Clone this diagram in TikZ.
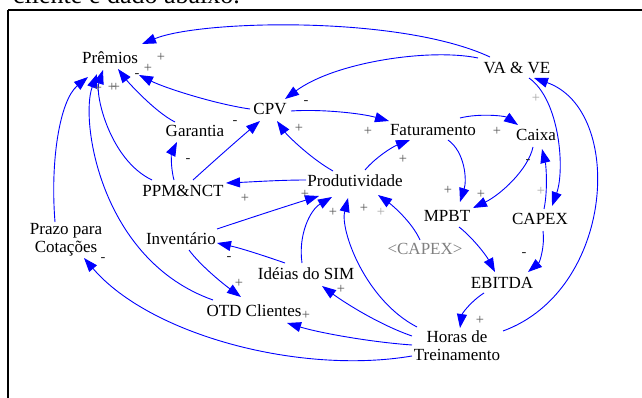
\documentclass[tikz,border=0pt]{standalone}
\usepackage{fontspec}
\setmainfont{Liberation Serif}
\usetikzlibrary{arrows.meta}
\definecolor{linkblue}{RGB}{0,0,255}
\definecolor{signgray}{RGB}{85,85,85}
\definecolor{signlight}{RGB}{165,165,165}
\definecolor{shadowgray}{RGB}{128,128,128}

\begin{document}
\begin{tikzpicture}[x=1pt,y=-1pt,
  var/.style={font=\fontsize{17}{18}\selectfont, inner sep=1.5pt, text height=12pt, text depth=3.5pt},
  var2/.style={font=\fontsize{17}{18}\selectfont, align=center, inner sep=1.5pt},
  link/.style={draw=linkblue, line width=0.9pt, -{Triangle[length=14pt,width=10pt]}},
  plus/.style={font=\fontsize{14.5}{14.5}\selectfont, text=signgray, inner sep=0pt},
  pluslight/.style={plus, text=signlight},
  minus/.style={font=\fontsize{14.5}{14.5}\selectfont, text=black!85, inner sep=0pt},
  boxline/.style={line width=2pt, draw=black}]

\useasboundingbox (0,0) rectangle (642,398);

% running text above the frame, cut by the page edge
\begin{scope}
  \clip (0,0) rectangle (642,398);
  \node[anchor=base west, font=\fontsize{26}{26}\selectfont, inner sep=0pt] (caption) at (13,4) {cliente é dado abaixo.};
\end{scope}

% frame
\draw[boxline] (8,10.5) -- (642,10.5);
\draw[boxline] (8,10.5) -- (8,398);

% variables
\node[var] (prem)   at (110,59)  {Prêmios};
\node[var] (vave)   at (517,69)  {VA \& VE};
\node[var] (cpv)    at (270,110) {CPV};
\node[var] (fat)    at (433,131) {Faturamento};
\node[var] (caixa)  at (536,136) {Caixa};
\node[var] (gar)    at (195,132) {Garantia};
\node[var] (ppm)    at (183,192) {PPM\&NCT};
\node[var] (prod)   at (355,182) {Produtividade};
\node[var] (mpbt)   at (447,217) {MPBT};
\node[var] (capex)  at (540,220) {CAPEX};
\node[var, text=shadowgray] (capexg) at (425,250) {<CAPEX>};
\node[var] (inv)    at (181,240) {Inventário};
\node[var] (ideias) at (306,275) {Idéias do SIM};
\node[var] (otd)    at (254,312) {OTD Clientes};
\node[var] (ebitda) at (502,284) {EBITDA};
\node[var2] (prazo) at (66,240)  {Prazo para\\Cotações};
\node[var2] (horas) at (457,346) {Horas de\\Treinamento};

% causal links
\draw[link] ([shift={(-27,-12)}]vave.center) .. controls +(-90,-42) and +(58,-24) .. ([shift={(32,-15)}]prem.center);
\draw[link] ([shift={(-39,-11)}]vave.center) .. controls +(-48,-10) and +(50,-37) .. ([shift={(15,-11)}]cpv.center);
\draw[link] ([shift={(-20,-1)}]cpv.center) .. controls +(-35,-5) and +(26,13) .. ([shift={(29,16)}]prem.center);
\draw[link] ([shift={(-20,-10)}]gar.center) .. controls +(-20,-10) and +(10,13) .. ([shift={(8,10)}]prem.center);
\draw[link] ([shift={(-31,-12)}]ppm.center) .. controls +(-42,-20) and +(-8,25) .. ([shift={(-7,11)}]prem.center);
\draw[link] ([shift={(-41,-12)}]otd.center) .. controls +(-113,-40) and +(-17,46) .. ([shift={(-13,15)}]prem.center);
\draw[link] ([shift={(-11,-18)}]prazo.center) .. controls +(-5,-62) and +(-28,23) .. ([shift={(-22,18)}]prem.center);
\draw[link] ([shift={(21,1)}]cpv.center) .. controls +(29,-2) and +(-29,-8) .. ([shift={(-44,-10)}]fat.center);
\draw[link] ([shift={(27,-13)}]fat.center) .. controls +(20,-5) and +(-13,-9) .. ([shift={(-18,-11)}]caixa.center);
\draw[link] ([shift={(-22,-11)}]prod.center) .. controls +(-23,-13) and +(10,14) .. ([shift={(7,11)}]cpv.center);
\draw[link] ([shift={(10,-12)}]prod.center) .. controls +(10,-12) and +(-18,7) .. ([shift={(-23,9)}]fat.center);
\draw[link] ([shift={(-49,-2)}]prod.center) .. controls +(-26,0) and +(24,-1) .. ([shift={(43,-9)}]ppm.center);
\draw[link] ([shift={(-9,-12)}]ppm.center) .. controls +(-4,-15) and +(-5,10) .. ([shift={(-18,10)}]gar.center);
\draw[link] ([shift={(10,-12)}]ppm.center) .. controls +(22,-20) and +(-20,17) .. ([shift={(-10,11)}]cpv.center);
\draw[link] ([shift={(15,9)}]fat.center) .. controls +(17,12) and +(7,-22) .. ([shift={(13,-15)}]mpbt.center);
\draw[link] ([shift={(-3,11)}]caixa.center) .. controls +(-5,23) and +(27,-13) .. ([shift={(26,-9)}]mpbt.center);
\draw[link] ([shift={(4,-11)}]capex.center) .. controls +(4,-19) and +(4,16) .. ([shift={(6,13)}]caixa.center);
\draw[link] ([shift={(12,9)}]vave.center) .. controls +(31,22) and +(13,-36) .. ([shift={(12,-14)}]capex.center);
\draw[link] ([shift={(46,-15)}]horas.center) .. controls +(112,-41) and +(91,32) .. ([shift={(17,9)}]vave.center);
\draw[link] ([shift={(12,10)}]mpbt.center) .. controls +(13,10) and +(-9,-17) .. ([shift={(-7,-12)}]ebitda.center);
\draw[link] ([shift={(3,11)}]capex.center) .. controls +(2,14) and +(12,-10) .. ([shift={(26,-12)}]ebitda.center);
\draw[link] ([shift={(-18,9)}]ebitda.center) .. controls +(-14,9) and +(2,-14) .. ([shift={(3,-18)}]horas.center);
\draw[link] ([shift={(-5,-10)}]capexg.center) .. controls +(-8,-18) and +(14,10) .. ([shift={(23,13)}]prod.center);
\draw[link] ([shift={(-40,-19)}]horas.center) .. controls +(-52,-27) and +(-8,32) .. ([shift={(-7,16)}]prod.center);
\draw[link] ([shift={(-4,-12)}]ideias.center) .. controls +(-4,-28) and +(-22,13) .. ([shift={(-23,15)}]prod.center);
\draw[link] ([shift={(36,-11)}]inv.center) .. controls +(33,-11) and +(-29,9) .. ([shift={(-36,14)}]prod.center);
\draw[link] ([shift={(-21,-12)}]ideias.center) .. controls +(-23,-8) and +(23,5) .. ([shift={(36,3)}]inv.center);
\draw[link] ([shift={(8,10)}]inv.center) .. controls +(11,15) and +(-19,-14) .. ([shift={(-13,-15)}]otd.center);
\draw[link] ([shift={(-45,-10)}]horas.center) .. controls +(-32,-11) and +(23,17) .. ([shift={(16,11)}]ideias.center);
\draw[link] ([shift={(-45,-1)}]horas.center) .. controls +(-42,-3) and +(33,10) .. ([shift={(33,11)}]otd.center);
\draw[link] ([shift={(-45,10)}]horas.center) .. controls +(-112,19) and +(66,77) .. ([shift={(18,18)}]prazo.center);

% polarity marks
\node[plus] (p1)  at (161,57)  {+};
\node[plus] (p2)  at (148,68)  {+};
\node[plus] (p3)  at (98,88)   {+};
\node[plus] (p4)  at (112,87)  {+};
\node[plus] (p5)  at (116,87)  {+};
\node[plus] (p6)  at (299,128) {+};
\node[plus] (p7)  at (368,131) {+};
\node[plus] (p8)  at (497,131) {+};
\node[plus] (p9)  at (403,159) {+};
\node[plus] (p10) at (245,198) {+};
\node[plus] (p11) at (305,194) {+};
\node[plus] (p12) at (333,212) {+};
\node[plus] (p13) at (364,208) {+};
\node[plus] (p14) at (448,190) {+};
\node[plus] (p15) at (481,194) {+};
\node[plus] (p16) at (480,320) {+};
\node[plus] (p17) at (341,289) {+};
\node[plus] (p18) at (239,283) {+};
\node[plus] (p19) at (306,315) {+};
\node[pluslight] (q1) at (536,98)  {+};
\node[pluslight] (q2) at (541,191) {+};
\node[pluslight] (q3) at (381,212) {+};
\node[minus] (m1) at (306,103) {-};
\node[minus] (m2) at (137,76)  {-};
\node[minus] (m3) at (235,123) {-};
\node[minus] (m4) at (188,161) {-};
\node[minus] (m5) at (528,162) {-};
\node[minus] (m6) at (524,255) {-};
\node[minus] (m7) at (229,259) {-};
\node[minus] (m8) at (103,260) {-};
\end{tikzpicture}
\end{document}
